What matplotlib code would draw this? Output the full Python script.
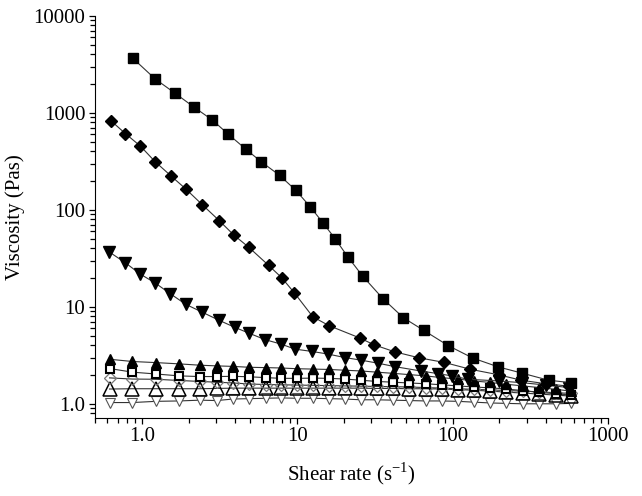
import matplotlib
matplotlib.use("Agg")
import matplotlib.pyplot as plt
from matplotlib.ticker import FixedLocator, LogLocator, NullFormatter, FixedFormatter

plt.rcParams['font.family'] = ['Liberation Serif', 'DejaVu Serif']
plt.rcParams['mathtext.fontset'] = 'custom'
plt.rcParams['mathtext.rm'] = 'Liberation Serif'

# filled squares
sq_x = [0.875, 1.22, 1.64, 2.16, 2.84, 3.57, 4.69, 5.87, 7.7, 9.8, 12.1, 14.6,
        17.6, 21.1, 26.4, 35.7, 48.3, 65.4, 94, 135, 197, 280, 415, 580]
sq_y = [3660, 2235, 1590, 1150, 845, 610, 420, 313, 227, 159, 108, 74,
        50, 33, 20.7, 12.1, 7.7, 5.7, 3.97, 2.96, 2.40, 2.07, 1.75, 1.65]

# filled diamonds
di_x = [0.635, 0.785, 0.98, 1.22, 1.55, 1.92, 2.45, 3.16, 3.91, 4.89, 6.54, 7.94,
        9.6, 12.6, 16.0, 25.3, 31.2, 42.3, 60.8, 88.5, 130, 198, 277, 398, 560]
di_y = [826, 610, 454, 313, 222, 164, 113, 77, 55, 41, 26.8, 20,
        13.9, 7.9, 6.4, 4.77, 4.06, 3.44, 2.98, 2.67, 2.27, 1.99, 1.75, 1.61, 1.52]

# filled down triangles
dt_x = [0.616, 0.785, 0.98, 1.22, 1.53, 1.92, 2.45, 3.12, 3.96, 4.92, 6.23, 7.86,
        9.7, 12.4, 15.9, 20.2, 25.7, 33.2, 42.3, 62.3, 80, 99, 126, 198, 280, 400, 560]
dt_y = [36.9, 28.4, 21.7, 17.6, 13.6, 10.6, 8.8, 7.3, 6.15, 5.33, 4.58, 4.13,
        3.66, 3.47, 3.25, 3.0, 2.82, 2.62, 2.42, 2.18, 2.05, 1.94, 1.79, 1.72, 1.65, 1.56, 1.47]

# shared x for the flat series
fx = [0.62, 0.87, 1.23, 1.74, 2.36, 3.03, 3.87, 4.9, 6.3, 7.9, 9.9, 12.6, 16.0,
      20.2, 25.7, 32.5, 41.5, 52.5, 67, 85, 108, 137, 175, 222, 282, 360, 460, 580]

# small filled up triangles
ut_y = [2.88, 2.73, 2.66, 2.58, 2.50, 2.46, 2.43, 2.38, 2.36, 2.34, 2.30, 2.28, 2.26,
        2.22, 2.18, 2.12, 2.06, 2.00, 1.94, 1.86, 1.80, 1.72, 1.66, 1.59, 1.53, 1.47, 1.41, 1.35]

# open squares
os_y = [2.31, 2.12, 2.03, 1.94, 1.91, 1.91, 1.92, 1.90, 1.86, 1.83, 1.83, 1.84, 1.83,
        1.80, 1.75, 1.70, 1.67, 1.64, 1.61, 1.57, 1.53, 1.49, 1.46, 1.42, 1.37, 1.31, 1.27, 1.23]

# open diamonds
od_y = [1.85, 1.80, 1.79, 1.74, 1.70, 1.67, 1.64, 1.60, 1.58, 1.57, 1.56, 1.55, 1.54,
        1.53, 1.52, 1.51, 1.50, 1.49, 1.47, 1.45, 1.43, 1.41, 1.39, 1.37, 1.35, 1.33, 1.30, 1.28]

# open up triangles
ot_y = [1.42, 1.43, 1.43, 1.43, 1.43, 1.44, 1.45, 1.45, 1.45, 1.45, 1.45, 1.45, 1.45,
        1.45, 1.45, 1.44, 1.44, 1.43, 1.43, 1.42, 1.40, 1.38, 1.35, 1.32, 1.29, 1.26, 1.23, 1.20]

# open down triangles
ov_y = [1.03, 1.03, 1.06, 1.07, 1.09, 1.08, 1.12, 1.13, 1.14, 1.15, 1.14, 1.14, 1.13,
        1.12, 1.10, 1.10, 1.09, 1.08, 1.07, 1.07, 1.06, 1.04, 1.02, 1.01, 1.00, 1.00, 1.00, 1.01]

x_ticks = [1, 10, 100, 1000]
x_labels = ['1.0', '10', '100', '1000']
y_ticks = [1, 10, 100, 1000, 10000]
y_labels = ['1.0', '10', '100', '1000', '10000']

fig = plt.figure(figsize=(6.42, 4.96), dpi=100)
ax = fig.add_axes([0.148, 0.158, 0.799, 0.81])

lc = '#333333'
lw = 0.8

ax.plot(fx, ov_y, color=lc, lw=lw, marker='v', ms=7, mfc='white', mec='#555555', mew=0.8)
ax.plot(fx, ot_y, color=lc, lw=lw, marker='^', ms=10, mfc='none', mec='black', mew=1.1)
ax.plot(fx, od_y, color=lc, lw=lw, marker='D', ms=6.5, mfc='none', mec='#777777', mew=0.9)
ax.plot(fx, os_y, color=lc, lw=lw, marker='s', ms=6, mfc='white', mec='black', mew=1.5)
ax.plot(fx, ut_y, color=lc, lw=lw, marker='^', ms=6.5, mfc='black', mec='black')
ax.plot(dt_x, dt_y, color=lc, lw=lw, marker='v', ms=8, mfc='black', mec='black')
ax.plot(di_x, di_y, color=lc, lw=lw, marker='D', ms=6.3, mfc='black', mec='black')
ax.plot(sq_x, sq_y, color=lc, lw=lw, marker='s', ms=7.5, mfc='black', mec='black')

ax.set_xscale('log')
ax.set_yscale('log')
ax.set_xlim(0.5, 1000)
ax.set_ylim(0.72, 10000)

ax.xaxis.set_major_locator(FixedLocator(x_ticks))
ax.xaxis.set_major_formatter(FixedFormatter(x_labels))
ax.yaxis.set_major_locator(FixedLocator(y_ticks))
ax.yaxis.set_major_formatter(FixedFormatter(y_labels))
ax.xaxis.set_minor_locator(LogLocator(base=10, subs=range(2, 10)))
ax.yaxis.set_minor_locator(LogLocator(base=10, subs=range(2, 10)))
ax.xaxis.set_minor_formatter(NullFormatter())
ax.yaxis.set_minor_formatter(NullFormatter())

ax.spines['top'].set_visible(False)
ax.spines['right'].set_visible(False)
ax.tick_params(which='both', direction='out', length=4, width=0.9, labelsize=15, pad=3)
ax.tick_params(which='minor', length=3.5)

ax.set_xlabel('Shear rate (s$^{-1}$)', fontsize=15, labelpad=10)
ax.set_ylabel('Viscosity (Pas)', fontsize=15, labelpad=6)

fig.savefig('out.png', dpi=100)
